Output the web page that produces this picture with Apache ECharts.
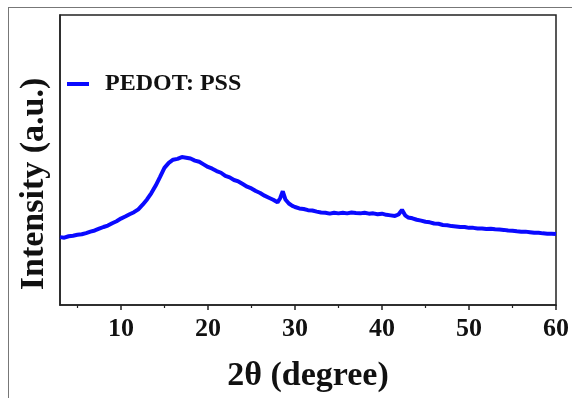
<!DOCTYPE html>
<html>
<head>
<meta charset="utf-8">
<script src="https://cdn.jsdelivr.net/npm/echarts@6/dist/echarts.min.js"></script>
<style>
html,body{margin:0;padding:0;background:#fff;}
#main{width:572px;height:398px;}
</style>
</head>
<body>
<div id="main"></div>
<script>
var seriesName = 'PEDOT: PSS';
var xTitle = '2θ (degree)';
var yTitle = 'Intensity (a.u.)';
var majorTicks = [10, 20, 30, 40, 50, 60];
var minorTicks = [5, 15, 25, 35, 45, 55];
var twoTheta = [3.0,3.5,4.0,4.5,5.0,5.5,6.0,6.5,7.0,7.5,8.0,8.5,9.0,9.5,10.0,10.5,11.0,11.5,12.0,12.5,13.0,13.5,14.0,14.5,15.0,15.5,16.0,16.5,17.0,17.5,18.0,18.5,19.0,19.5,20.0,20.5,21.0,21.5,22.0,22.5,23.0,23.5,24.0,24.5,25.0,25.5,26.0,26.5,27.0,27.5,28.0,28.3,28.6,28.9,29.3,29.7,30.0,30.5,31.0,31.5,32.0,32.5,33.0,33.5,34.0,34.5,35.0,35.5,36.0,36.5,37.0,37.5,38.0,38.5,39.0,39.5,40.0,40.5,41.0,41.5,41.9,42.3,42.7,43.0,43.5,44.0,44.5,45.0,45.5,46.0,46.5,47.0,47.5,48.0,48.5,49.0,49.5,50.0,50.5,51.0,51.5,52.0,52.5,53.0,53.5,54.0,54.5,55.0,55.5,56.0,56.5,57.0,57.5,58.0,58.5,59.0,59.5,60.0];
var intensity = [23.4,23.2,23.7,23.9,24.2,24.4,24.8,25.3,25.7,26.3,26.9,27.4,28.2,28.9,29.8,30.5,31.3,32.0,33.0,34.6,36.4,38.6,41.2,44.2,47.3,49.0,50.1,50.4,51.0,50.8,50.5,49.8,49.4,48.5,47.6,47.0,46.2,45.6,44.5,44.0,43.1,42.6,41.7,40.8,40.2,39.3,38.6,37.7,37.0,36.3,35.4,36.8,39.2,36.4,35.0,34.2,33.8,33.3,33.1,32.7,32.6,32.2,31.9,31.8,31.5,31.8,31.6,31.8,31.6,31.9,31.7,31.6,31.8,31.5,31.6,31.3,31.5,31.1,30.9,30.7,31.2,32.8,30.8,30.2,29.9,29.4,29.1,28.7,28.5,28.1,28.0,27.6,27.5,27.2,27.1,26.9,26.9,26.6,26.6,26.4,26.4,26.2,26.3,26.1,26.0,25.9,25.7,25.6,25.4,25.3,25.3,25.1,24.9,24.9,24.7,24.6,24.6,24.5];

var data = twoTheta.map(function (x, i) { return [x, intensity[i]]; });
var serif = '"Liberation Serif", "Times New Roman", serif';

var chart = echarts.init(document.getElementById('main'));
chart.setOption({
  animation: false,
  backgroundColor: '#fff',
  grid: { left: 60, right: 15, top: 15, bottom: 93, show: true, borderColor: '#222', borderWidth: 1.5, backgroundColor: 'transparent' },
  legend: {
    left: 62, top: 67,
    itemWidth: 22, itemHeight: 4,
    icon: 'rect',
    data: [seriesName],
    textStyle: { fontFamily: serif, fontWeight: 'bold', fontSize: 24, color: '#111', padding: [0, 0, 0, 11] }
  },
  xAxis: [{
    type: 'value', min: 3, max: 60,
    name: xTitle, nameLocation: 'middle', nameGap: 54,
    nameTextStyle: { fontFamily: serif, fontWeight: 'bold', fontSize: 34, color: '#111' },
    axisLine: { show: true, lineStyle: { color: '#222', width: 1.5 } },
    axisTick: { show: true, customValues: majorTicks, length: 5, lineStyle: { color: '#222', width: 1.5 } },
    axisLabel: { customValues: majorTicks, margin: 11, fontFamily: serif, fontWeight: 'bold', fontSize: 26, color: '#111' },
    splitLine: { show: false }
  }, {
    type: 'value', min: 3, max: 60, position: 'bottom', gridIndex: 0,
    axisLine: { show: false },
    axisTick: { show: true, customValues: minorTicks, length: 3, lineStyle: { color: '#222', width: 1.2 } },
    axisLabel: { show: false },
    splitLine: { show: false }
  }],
  yAxis: {
    type: 'value', min: 0, max: 100,
    axisLine: { show: true, lineStyle: { color: '#222', width: 1.5 } },
    axisTick: { show: false },
    axisLabel: { show: false },
    splitLine: { show: false }
  },
  graphic: [
    { type: 'line', shape: { x1: 8, y1: 7.5, x2: 572, y2: 7.5 }, style: { stroke: '#777', lineWidth: 1 } },
    { type: 'line', shape: { x1: 8.5, y1: 7, x2: 8.5, y2: 398 }, style: { stroke: '#777', lineWidth: 1 } },
    { type: 'text', x: 34, y: 184, rotation: Math.PI / 2,
      style: { text: yTitle, font: 'bold 34px ' + serif, fill: '#111', align: 'center', verticalAlign: 'middle' } }
  ],
  series: [{
    name: seriesName,
    type: 'line',
    data: data,
    showSymbol: false,
    color: '#0a0aff',
    lineStyle: { color: '#0a0aff', width: 4 }
  }]
});
</script>
</body>
</html>
